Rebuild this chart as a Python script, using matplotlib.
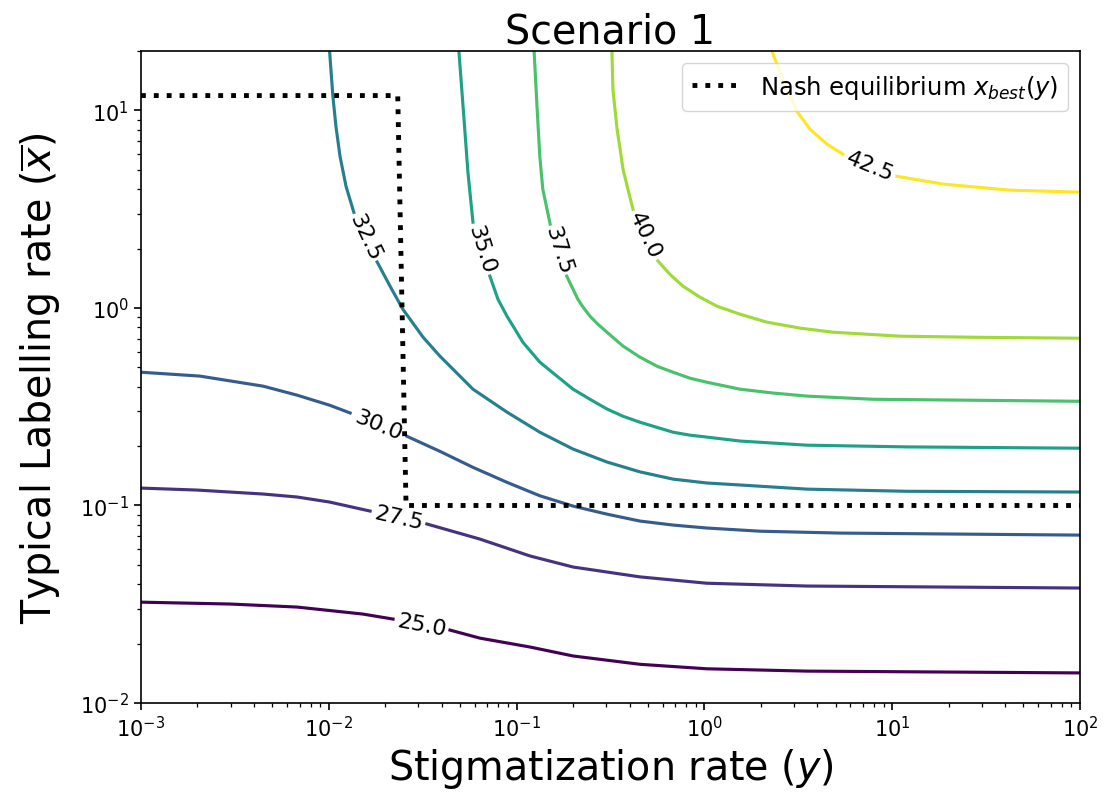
import numpy as np
import matplotlib
matplotlib.use("Agg")
import matplotlib.pyplot as plt

# contour levels of the payoff surface
levels = [25.0, 27.5, 30.0, 32.5, 35.0, 37.5, 40.0, 42.5]

# contour lines: stigmatization rate (y) vs labelling rate (x bar)
c250_y = [0.001, 0.00298, 0.00678, 0.0152, 0.0220, 0.0442, 0.0638, 0.118, 0.200, 0.454, 1.03, 3.52, 100]
c250_x = [0.0324, 0.0317, 0.0306, 0.0282, 0.0266, 0.0234, 0.0213, 0.0192, 0.0173, 0.0157, 0.0149, 0.0145, 0.0142]

c275_y = [0.001, 0.00199, 0.00447, 0.00678, 0.0101, 0.0166, 0.0333, 0.0638, 0.118, 0.200, 0.454, 1.03, 3.52, 100]
c275_x = [0.1225, 0.1197, 0.1143, 0.1104, 0.1041, 0.0937, 0.0806, 0.0676, 0.0555, 0.0488, 0.0435, 0.0404, 0.0391, 0.0382]

c300_y = [0.001, 0.00206, 0.00447, 0.00678, 0.0101, 0.0130, 0.0261, 0.0391, 0.0586, 0.0889, 0.133, 0.200,
          0.303, 0.454, 0.681, 1.03, 1.98, 5.27, 100]
c300_x = [0.473, 0.452, 0.402, 0.362, 0.322, 0.294, 0.224, 0.188, 0.156, 0.131, 0.112, 0.0993,
          0.0904, 0.0834, 0.0796, 0.0769, 0.0741, 0.0725, 0.0708]

c325_y = [0.0101, 0.01052, 0.01092, 0.01148, 0.01236, 0.0136, 0.0181, 0.0212, 0.0248, 0.0318, 0.0391,
          0.0586, 0.0889, 0.133, 0.200, 0.303, 0.454, 0.681, 1.03, 1.55, 3.52, 12.0, 100]
c325_x = [20, 11.8, 8.32, 5.86, 4.13, 3.05, 1.71, 1.29, 0.986, 0.711, 0.570,
          0.388, 0.297, 0.235, 0.193, 0.166, 0.148, 0.136, 0.130, 0.127, 0.121, 0.118, 0.117]

c350_y = [0.0493, 0.0519, 0.0551, 0.0586, 0.0721, 0.0796, 0.0889, 0.098, 0.108, 0.133, 0.164, 0.200,
          0.246, 0.303, 0.369, 0.454, 0.681, 0.838, 1.03, 1.55, 3.52, 12.0, 100]
c350_x = [20, 10.5, 4.86, 2.72, 1.45, 1.108, 0.909, 0.782, 0.671, 0.532, 0.452, 0.388,
          0.345, 0.308, 0.283, 0.264, 0.235, 0.227, 0.222, 0.212, 0.202, 0.198, 0.195]

c375_y = [0.124, 0.1285, 0.133, 0.138, 0.151, 0.185, 0.212, 0.226, 0.246, 0.271, 0.303, 0.369,
          0.454, 0.560, 0.681, 0.838, 1.03, 1.55, 2.32, 3.52, 7.91, 100]
c375_x = [20, 10.5, 5.86, 3.99, 2.66, 1.45, 1.108, 1.01, 0.909, 0.828, 0.754, 0.641,
          0.564, 0.507, 0.473, 0.441, 0.421, 0.388, 0.371, 0.358, 0.345, 0.337]

c400_y = [0.322, 0.326, 0.343, 0.356, 0.369, 0.392, 0.417, 0.566, 0.656, 0.769, 0.948, 1.17,
          1.55, 2.15, 3.23, 4.84, 11.0, 26.9, 100]
c400_x = [20, 12.8, 8.04, 6.37, 5.04, 3.99, 3.16, 1.73, 1.48, 1.29, 1.134, 1.02,
          0.930, 0.848, 0.791, 0.754, 0.720, 0.711, 0.703]

c425_y = [2.29, 2.53, 2.76, 3.11, 3.65, 4.50, 5.47, 10.6, 18.7, 42.4, 100]
c425_x = [20, 15.6, 12.8, 9.91, 8.04, 6.75, 6.00, 4.64, 4.24, 3.95, 3.86]

# Nash equilibrium best response x_best(y)
nash_y = [0.001, 0.0233, 0.0258, 100]
nash_x = [11.9, 11.9, 0.1, 0.1]

contours = [(c250_y, c250_x), (c275_y, c275_x), (c300_y, c300_x), (c325_y, c325_x),
            (c350_y, c350_x), (c375_y, c375_x), (c400_y, c400_x), (c425_y, c425_x)]
# index of the segment where the inline label sits
label_seg = [4, 5, 5, 5, 3, 4, 6, 6]

fig, ax = plt.subplots(figsize=(11.09, 8.03), dpi=100)
fig.subplots_adjust(left=0.1271, right=0.9738, bottom=0.1233, top=0.9352)

ax.set_xscale("log")
ax.set_yscale("log")
ax.set_xlim(1e-3, 1e2)
ax.set_ylim(1e-2, 20)

colors = plt.cm.viridis(np.linspace(0, 1, len(levels)))

for lev, (ys, xs), k, col in zip(levels, contours, label_seg, colors):
    # draw the line in two pieces, leaving a gap for the label
    ax.plot(ys[:k + 1], xs[:k + 1], color=col, lw=2.25, zorder=2)
    ax.plot(ys[k + 1:], xs[k + 1:], color=col, lw=2.25, zorder=2)
    p0 = ax.transData.transform((ys[k], xs[k]))
    p1 = ax.transData.transform((ys[k + 1], xs[k + 1]))
    ang = np.degrees(np.arctan2(p1[1] - p0[1], p1[0] - p0[0]))
    if ang > 90:
        ang -= 180
    if ang < -90:
        ang += 180
    xm = np.sqrt(ys[k] * ys[k + 1])
    ym = np.sqrt(xs[k] * xs[k + 1])
    ax.text(xm, ym, "%.1f" % lev, rotation=ang, rotation_mode="anchor",
            ha="center", va="center", fontsize=16, color="k", zorder=2.5)

ax.plot(nash_y, nash_x, ":", color="k", lw=3.5, zorder=3,
        label=r"Nash equilibrium $x_{best}(y)$")

ax.set_title("Scenario 1", fontsize=28.5)
ax.set_xlabel(r"Stigmatization rate ($y$)", fontsize=28.5)
ax.set_ylabel(r"Typical Labelling rate ($\overline{x}$)", fontsize=28.5, labelpad=12)
ax.tick_params(which="major", labelsize=15, length=5.25, width=1.2)
ax.tick_params(which="minor", length=3, width=0.9)
for s in ax.spines.values():
    s.set_linewidth(1.2)

ax.legend(loc="upper right", fontsize=17.5)

plt.savefig("out.png", dpi=100)
